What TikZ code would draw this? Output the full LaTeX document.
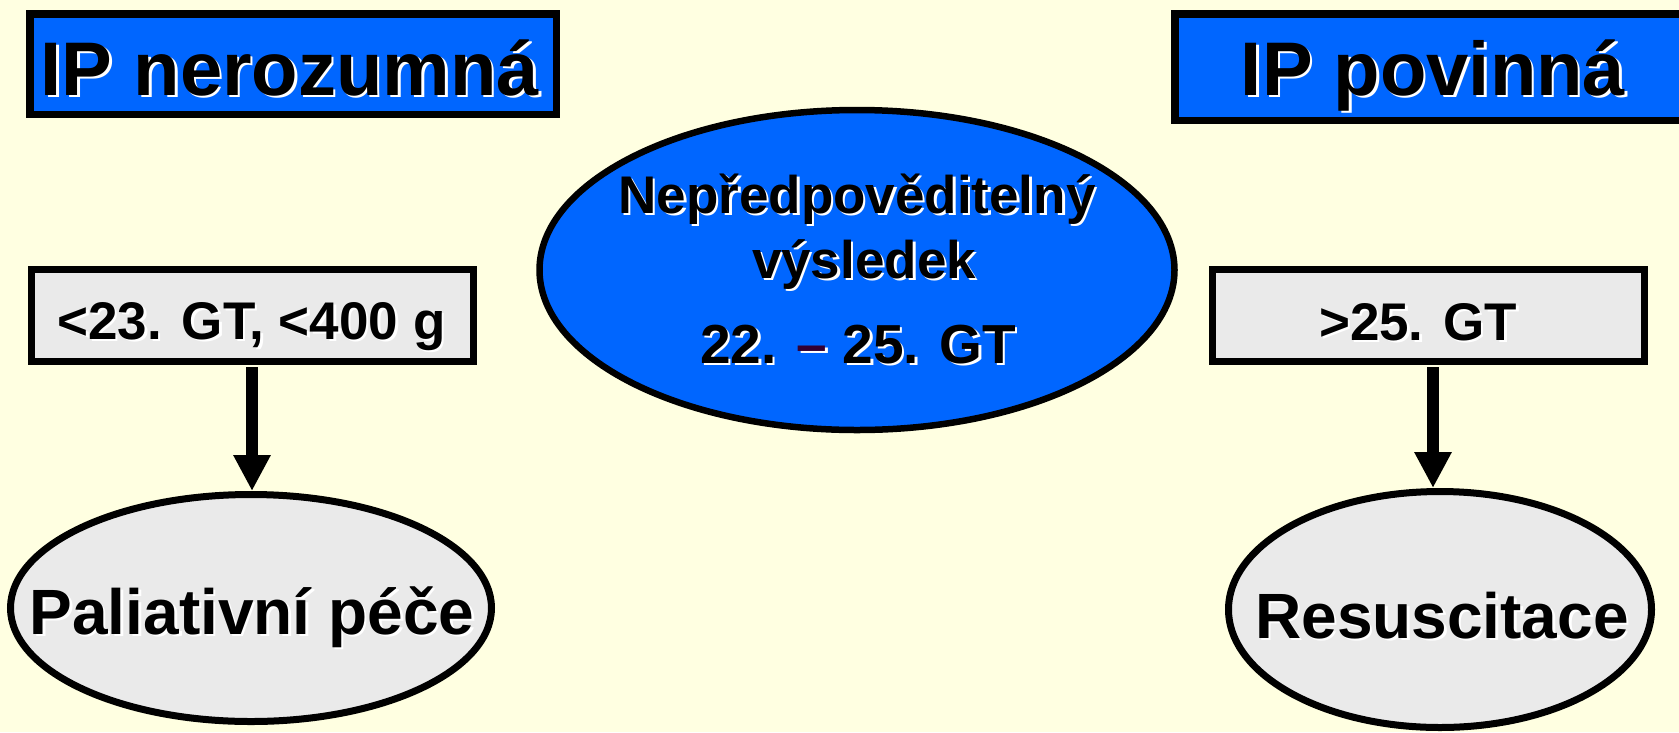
\documentclass[tikz,border=0pt]{standalone}
\usepackage{fontspec}
\setmainfont{Liberation Sans}
\usetikzlibrary{arrows.meta,shapes.geometric}
\definecolor{bg}{HTML}{FFFFE1}
\definecolor{bblue}{HTML}{0066FF}
\definecolor{lgray}{HTML}{EAEAEA}
\definecolor{dashp}{HTML}{330033}
\newcommand\dashcol{dashp}
\newcommand\shd[1]{\leavevmode\rlap{\kern2.5pt\raisebox{-2.5pt}{\renewcommand\dashcol{white}\color{white}#1}}#1}
\begin{document}
\begin{tikzpicture}[x=1pt,y=-1pt,
  bluebox/.style={draw=black,fill=bblue,line width=7.5pt,inner sep=0pt},
  graybox/.style={draw=black,fill=lgray,line width=7pt,inner sep=0pt},
  oval/.style={ellipse,draw=black,line width=7pt,inner sep=0pt},
  lbl/.style={anchor=base,inner sep=0pt},
  ttl/.style={lbl,font=\bfseries\fontsize{76pt}{80pt}\selectfont},
  crit/.style={lbl,font=\bfseries\fontsize{53pt}{56pt}\selectfont},
  outc/.style={lbl,font=\bfseries\fontsize{64pt}{68pt}\selectfont},
  arr/.style={line width=12pt,-{Triangle[width=35pt,length=36pt]},shorten <=2pt}]
\fill[bg] (0,0) rectangle (1679,732);
\useasboundingbox (0,0) rectangle (1679,732);
% title boxes
\node[bluebox,minimum width=526.5pt,minimum height=100.5pt] (b1) at (293,64) {};
\node[ttl] (t1) at (290,95) {\shd{IP nerozumná}};
\node[bluebox,minimum width=520pt,minimum height=106.5pt] (b2) at (1435,67) {};
\node[ttl] (t2) at (1433,95) {\shd{IP povinná}};
% centre ellipse
\node[oval,fill=bblue,line width=6.5pt,minimum width=635pt,minimum height=320pt] (e1) at (857,270) {};
\node[crit] (c1) at (857,213) {\shd{Nepředpověditelný}};
\node[crit] (c2) at (864,278) {\shd{výsledek}};
\node[lbl,font=\bfseries\fontsize{55pt}{60pt}\selectfont] (c3) at (858,363) {\shd{22. \textcolor{\dashcol}{–} 25. GT}};
% criteria boxes
\node[graybox,minimum width=442pt,minimum height=92pt] (b3) at (252,315.5) {};
\node[crit] (t3) at (251.5,339) {\shd{<23. GT, <400 g}};
\node[graybox,minimum width=432pt,minimum height=92pt] (b4) at (1428.5,315.5) {};
\node[crit] (t4) at (1418,340) {\shd{>25. GT}};
% outcome ellipses
\node[oval,fill=lgray,minimum width=481pt,minimum height=227pt] (e2) at (251,608) {};
\node[outc] (t5) at (252,634) {\shd{Paliativní péče}};
\node[oval,fill=lgray,minimum width=423pt,minimum height=236pt] (e3) at (1440,609.5) {};
\node[outc] (t6) at (1442,638) {\shd{Resuscitace}};
% arrows
\draw[arr] (b3.south) -- (b3.south |- e2.north);
\coordinate (r) at ([xshift=4.5pt]b4.south);
\draw[arr] (r) -- (r |- e3.north);
\end{tikzpicture}
\end{document}
